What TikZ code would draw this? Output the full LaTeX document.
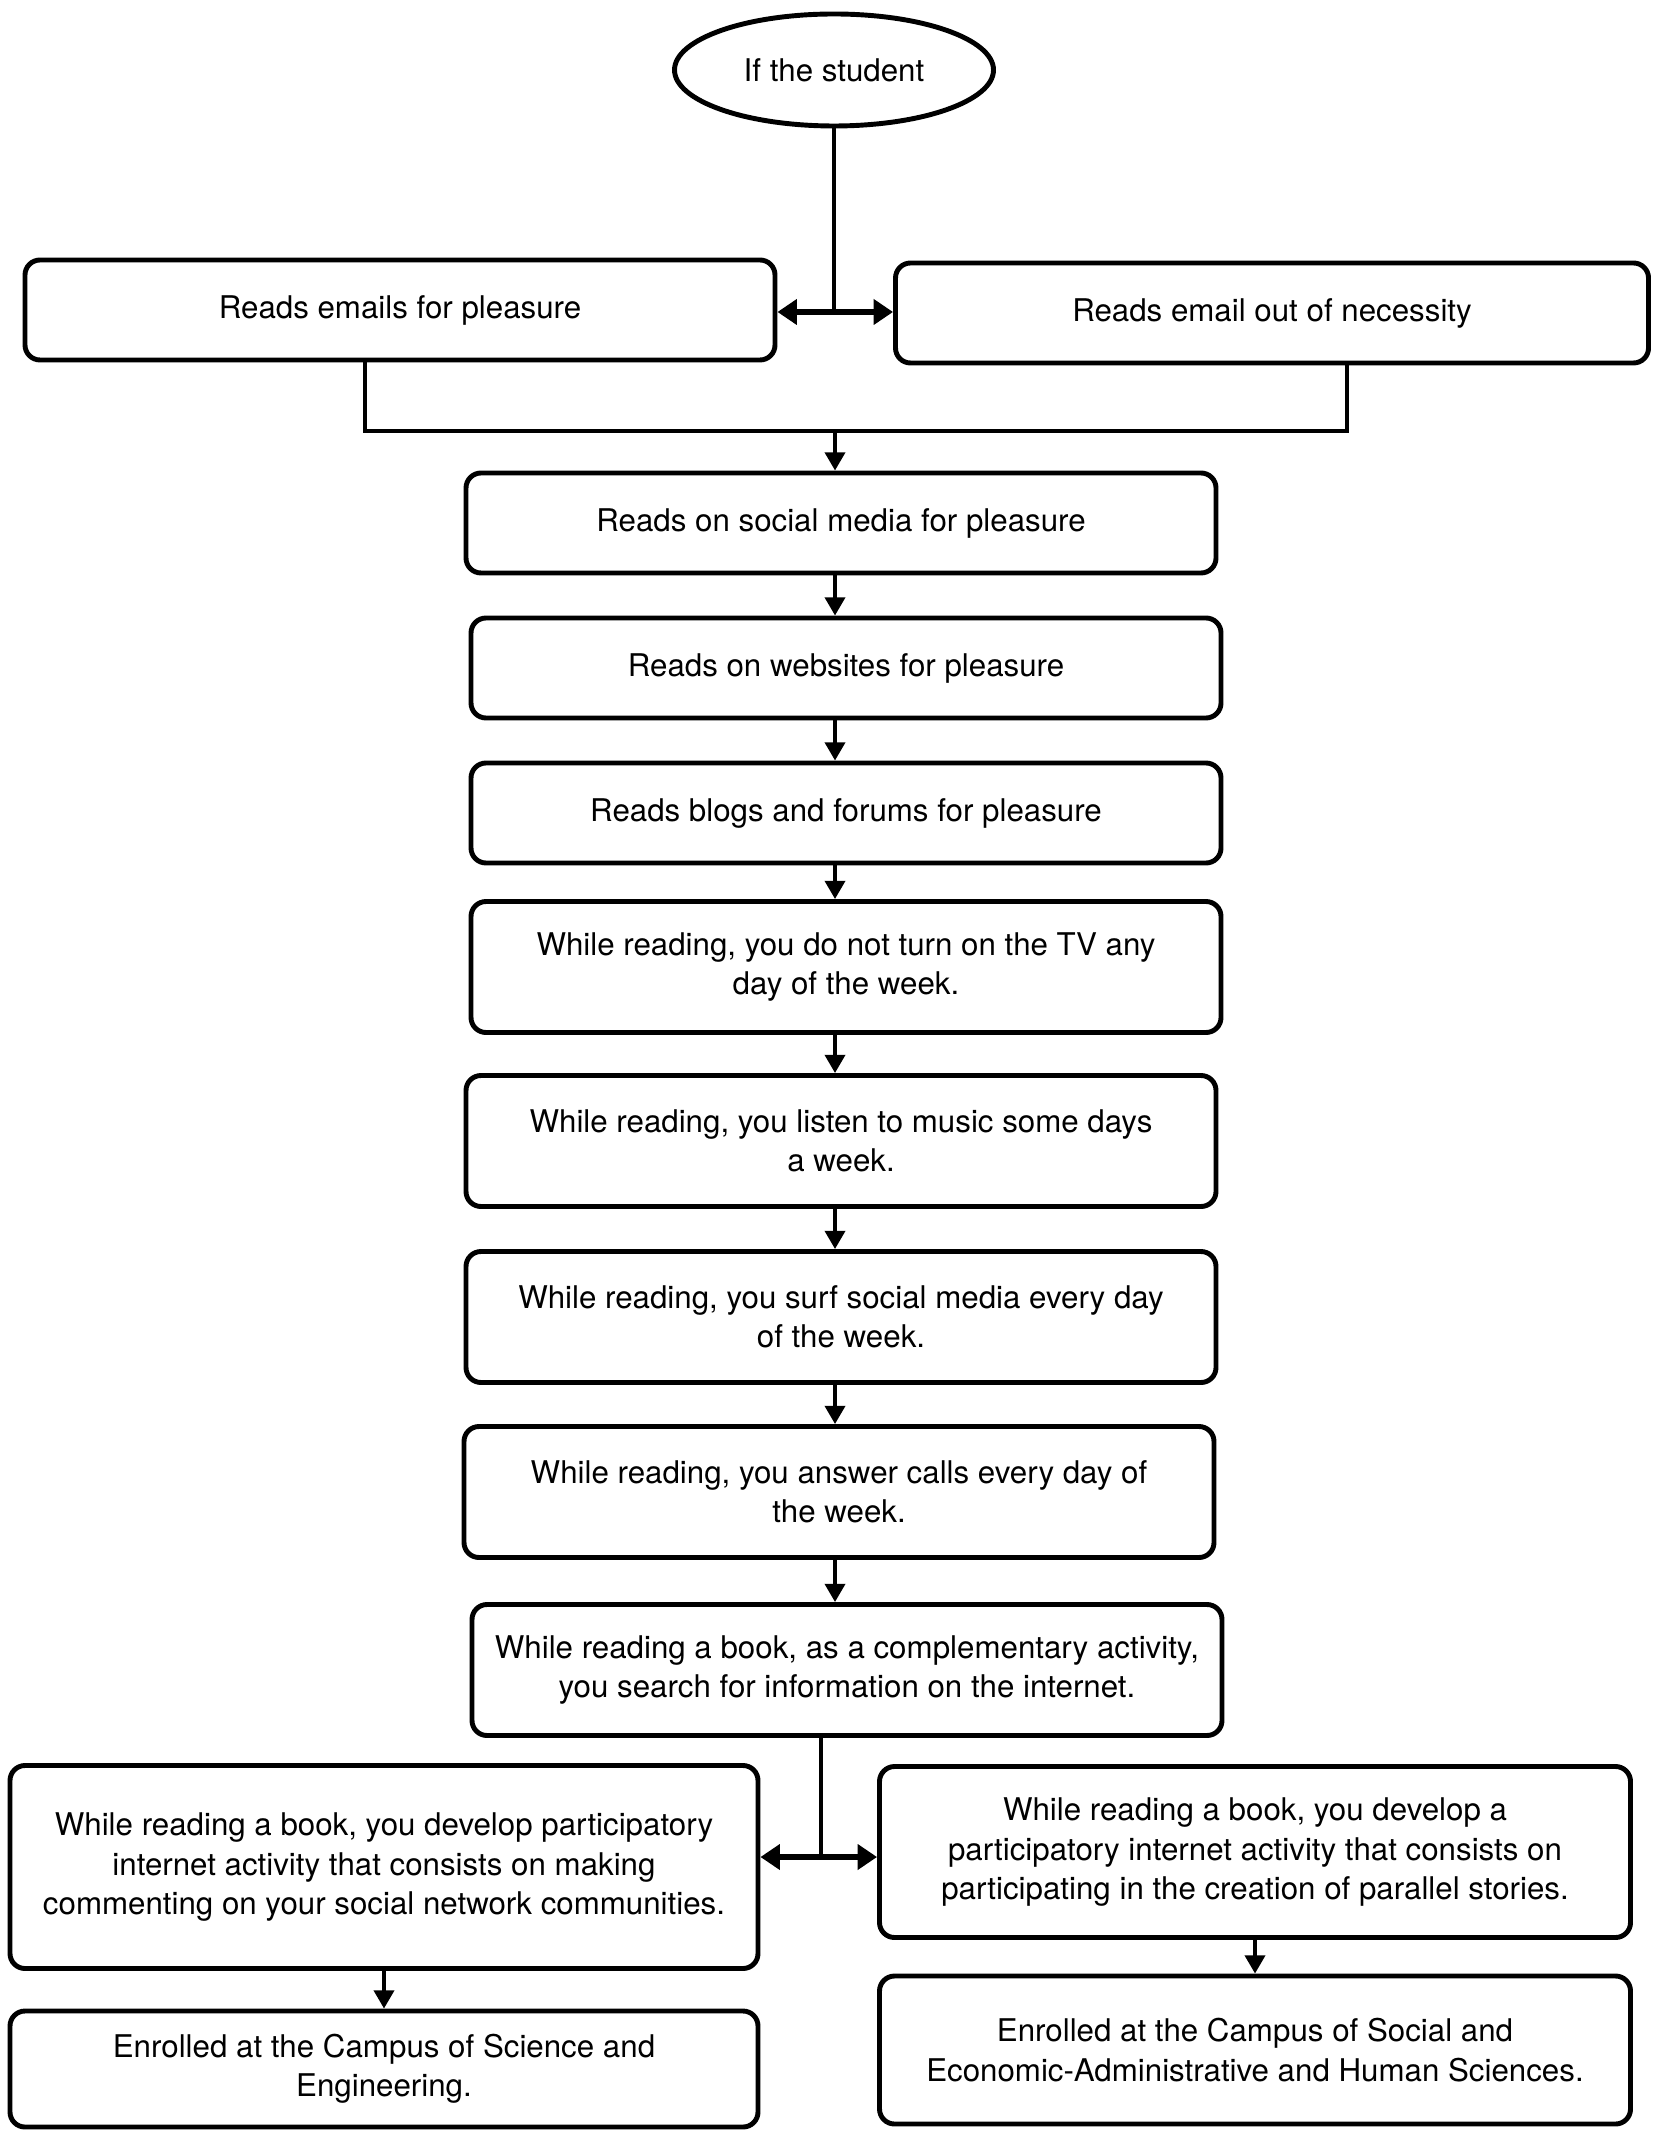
\documentclass[tikz,border=0pt]{standalone}
\usepackage{fontspec}
\setmainfont{TeX Gyre Heros}
\usetikzlibrary{arrows.meta}
\usetikzlibrary{shapes.geometric}

\begin{document}
\begin{tikzpicture}[
  box/.style={draw=black, line width=1.4pt, rounded corners=0.15cm, minimum width=7.5cm, minimum height=1cm, inner sep=0pt, align=center, font=\fontsize{8.9}{11.2}\selectfont},
  link/.style={line width=1.1pt},
  arr/.style={line width=1.1pt, -{Triangle[length=5.2pt,width=5.7pt]}},
  dblarr/.style={line width=1.8pt, {Triangle[length=5.5pt,width=7pt]}-{Triangle[length=5.5pt,width=7pt]}}
]

\useasboundingbox (0,0) rectangle (16.54,-21.40);

% Start
\node[draw, ellipse, line width=1.4pt, minimum width=3.19cm, minimum height=1.12cm, inner sep=0pt, font=\fontsize{8.9}{11.2}\selectfont] (start) at (8.34,-0.70) {If the student};

% Email
\node[box] (pleasure) at (4.00,-3.10) {Reads emails for pleasure};
\node[box, minimum width=7.53cm] (necessity) at (12.72,-3.13) {Reads email out of necessity};

% Chain
\node[box] (social) at (8.41,-5.23) {Reads on social media for pleasure};
\node[box] (websites) at (8.46,-6.68) {Reads on websites for pleasure};
\node[box] (blogs) at (8.46,-8.13) {Reads blogs and forums for pleasure};
\node[box, minimum height=1.31cm] (tv) at (8.46,-9.67) {While reading, you do not turn on the TV any\\day of the week.};
\node[box, minimum height=1.31cm] (music) at (8.41,-11.41) {While reading, you listen to music some days\\a week.};
\node[box, minimum height=1.31cm] (surf) at (8.41,-13.17) {While reading, you surf social media every day\\of the week.};
\node[box, minimum height=1.31cm] (calls) at (8.39,-14.92) {While reading, you answer calls every day of\\the week.};
\node[box, minimum height=1.31cm] (search) at (8.47,-16.70) {While reading a book, as a complementary activity,\\you search for information on the internet.};

% Activities
\node[box, minimum width=7.48cm, minimum height=2.03cm] (comment) at (3.84,-18.67) {While reading a book, you develop participatory\\internet activity that consists on making\\commenting on your social network communities.};
\node[box, minimum width=7.51cm, minimum height=1.71cm] (stories) at (12.55,-18.52) {While reading a book, you develop a\\participatory internet activity that consists on\\participating in the creation of parallel stories.};

% Campus
\node[box, minimum width=7.48cm, minimum height=1.16cm] (science) at (3.84,-20.69) {Enrolled at the Campus of Science and\\Engineering.};
\node[box, minimum width=7.51cm, minimum height=1.48cm] (human) at (12.55,-20.50) {Enrolled at the Campus of Social and\\Economic-Administrative and Human Sciences.};

% Connectors
\coordinate (top) at (8.34,-3.12);
\coordinate (mL) at (3.65,-4.31);
\coordinate (mR) at (13.47,-4.31);
\coordinate (m) at (8.35,-4.31);
\coordinate (split) at (8.21,-18.57);

\draw[link] (start.south) -- (top);
\draw[dblarr] (pleasure.east |- top) -- (necessity.west |- top);
\draw[link] (mL |- pleasure.south) -- (mL) -- (mR) -- (mR |- necessity.south);
\draw[arr] (m) -- (m |- social.north);
\foreach \a/\b in {social/websites, websites/blogs, blogs/tv, tv/music, music/surf, surf/calls, calls/search}
  \draw[arr] (m |- \a.south) -- (m |- \b.north);
\draw[link] (split |- search.south) -- (split);
\draw[dblarr] (comment.east |- split) -- (stories.west |- split);
\draw[arr] (comment.south) -- (science.north);
\draw[arr] (stories.south) -- (human.north);

\end{tikzpicture}
\end{document}
